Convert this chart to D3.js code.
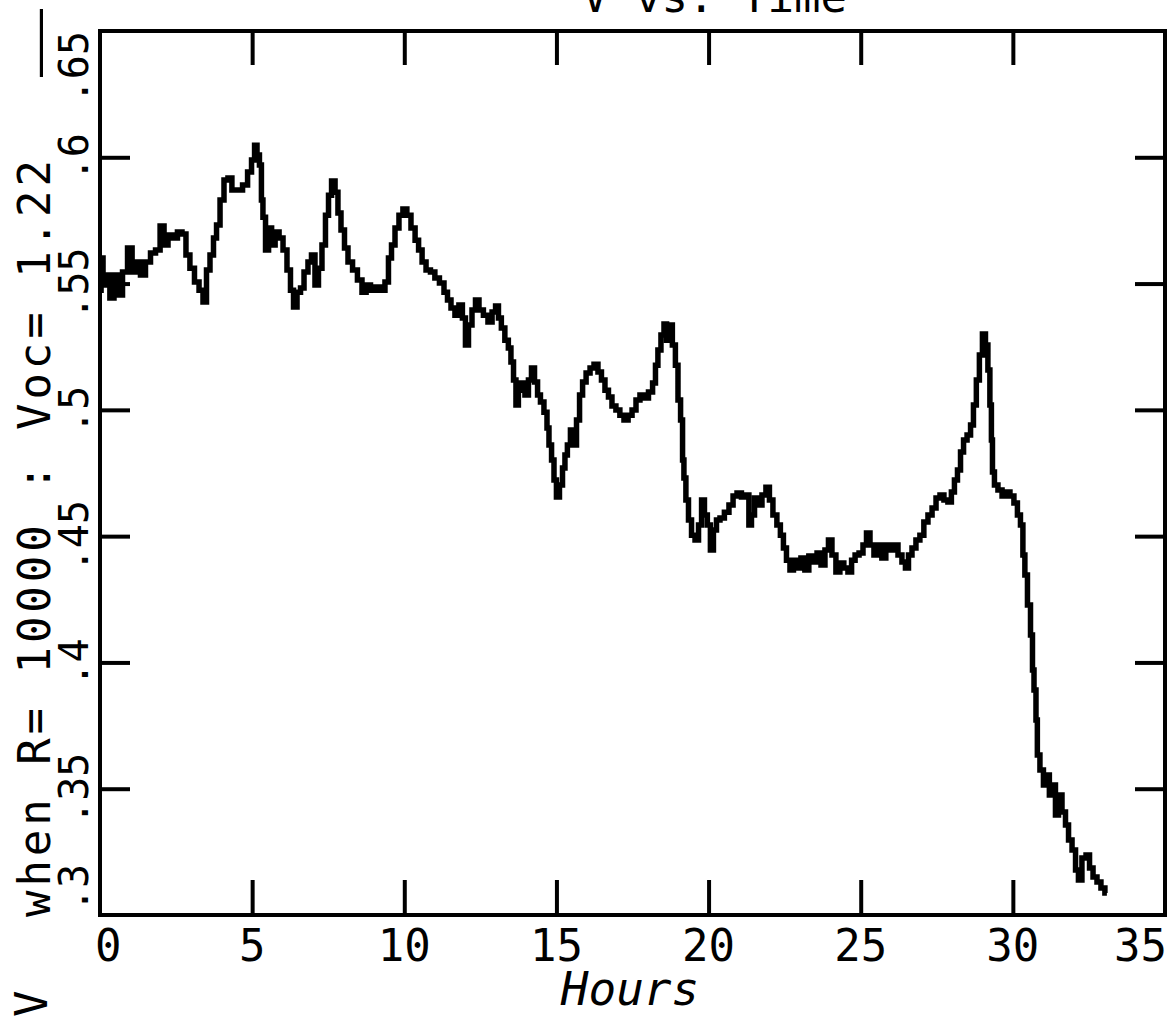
<!DOCTYPE html>
<html>
<head>
<meta charset="utf-8">
<script src="https://cdn.jsdelivr.net/npm/d3@7"></script>
<style>
  html, body { margin: 0; padding: 0; background: #ffffff; }
  svg { display: block; }
  text { font-family: "DejaVu Sans Mono", "Liberation Mono", monospace; fill: #000; }
</style>
</head>
<body>
<div id="chart"></div>
<script>
// ---- data ----
const titleText = "V vs. Time";
const xLabel = "Hours";
const yLabel = "when R= 10000 : Voc= 1.22";
const yUnit = "V";
const xTickValues = [0, 5, 10, 15, 20, 25, 30, 35];
const xTickLabels = ["0", "5", "10", "15", "20", "25", "30", "35"];
const yTickValues = [0.30, 0.35, 0.40, 0.45, 0.50, 0.55, 0.60, 0.65];
const yTickLabels = [".3", ".35", ".4", ".45", ".5", ".55", ".6", ".65"];

const hours = [
  0.00,0.07,0.13,0.26,0.39,0.53,0.66,0.82,0.99,1.12,1.25,1.41,1.58,1.74,1.91,2.04,2.17,2.30,2.46,2.63,
  2.76,2.89,3.02,3.19,3.32,3.45,3.55,3.68,3.78,3.88,4.01,4.14,4.27,4.40,4.60,4.77,4.93,5.03,5.13,5.19,
  5.29,5.32,5.39,5.49,5.59,5.69,5.82,5.95,6.08,6.21,6.31,6.41,6.54,6.64,6.77,6.90,7.00,7.13,7.23,7.36,
  7.46,7.56,7.66,7.79,7.85,7.99,8.08,8.22,8.38,8.54,8.68,8.81,8.97,9.14,9.30,9.43,9.53,9.63,9.76,9.89,
  10.02,10.15,10.29,10.42,10.52,10.65,10.78,10.94,11.07,11.24,11.37,11.47,11.60,11.73,11.86,11.96,12.06,12.16,12.29,12.39,
  12.52,12.68,12.82,12.95,13.05,13.14,13.24,13.37,13.47,13.54,13.64,13.70,13.80,13.90,14.03,14.13,14.23,14.33,14.43,14.52,
  14.66,14.72,14.79,14.89,14.95,15.05,15.15,15.25,15.31,15.41,15.51,15.61,15.71,15.81,15.91,16.04,16.17,16.30,16.43,16.53,
  16.66,16.76,16.89,17.02,17.15,17.29,17.42,17.55,17.68,17.81,17.94,18.11,18.21,18.30,18.37,18.50,18.57,18.67,18.76,18.86,
  18.96,19.03,19.13,19.16,19.22,19.29,19.39,19.49,19.62,19.72,19.82,19.91,20.01,20.11,20.21,20.31,20.44,20.60,20.74,20.87,
  21.00,21.16,21.29,21.36,21.46,21.56,21.69,21.82,21.95,22.05,22.18,22.31,22.41,22.51,22.61,22.74,22.84,22.97,23.10,23.23,
  23.36,23.50,23.63,23.76,23.89,23.99,24.12,24.25,24.38,24.51,24.65,24.75,24.88,25.01,25.14,25.24,25.37,25.50,25.63,25.76,
  25.89,26.03,26.16,26.29,26.42,26.52,26.62,26.75,26.88,27.01,27.14,27.28,27.41,27.54,27.67,27.80,27.93,28.03,28.13,28.23,
  28.33,28.43,28.56,28.66,28.75,28.85,28.95,29.05,29.15,29.21,29.28,29.31,29.35,29.44,29.58,29.71,29.84,29.97,30.10,30.20,
  30.30,30.36,30.43,30.53,30.63,30.66,30.73,30.79,30.82,30.96,31.05,31.15,31.25,31.35,31.45,31.55,31.68,31.78,31.88,32.01,
  32.11,32.20,32.34,32.47,32.57,32.70,32.83,32.96,33.09
];
const volts = [
  .5474,.5601,.5494,.5534,.5443,.5534,.5455,.5546,.5641,.5546,.5585,.5534,.5585,.5621,.5633,.5728,.5653,.5692,.5680,.5704,
  .5696,.5613,.5561,.5506,.5474,.5427,.5554,.5613,.5680,.5732,.5831,.5910,.5918,.5870,.5870,.5890,.5942,.5989,.6048,.6009,
  .5969,.5831,.5763,.5633,.5720,.5653,.5704,.5680,.5633,.5554,.5474,.5407,.5466,.5482,.5546,.5585,.5613,.5494,.5561,.5653,
  .5771,.5850,.5906,.5862,.5779,.5712,.5641,.5585,.5554,.5514,.5466,.5494,.5474,.5486,.5474,.5506,.5601,.5653,.5720,.5771,
  .5795,.5771,.5720,.5672,.5633,.5585,.5554,.5546,.5522,.5502,.5466,.5435,.5403,.5375,.5415,.5364,.5257,.5336,.5395,.5435,
  .5395,.5375,.5348,.5387,.5411,.5364,.5324,.5276,.5245,.5189,.5118,.5019,.5078,.5106,.5059,.5118,.5166,.5110,.5059,.5031,
  .4991,.4928,.4861,.4801,.4722,.4655,.4702,.4770,.4821,.4861,.4920,.4861,.4960,.5059,.5110,.5146,.5166,.5181,.5150,.5118,
  .5078,.5051,.5015,.4999,.4979,.4960,.4979,.4999,.5039,.5059,.5047,.5071,.5106,.5177,.5237,.5296,.5340,.5276,.5336,.5257,
  .5177,.5039,.4960,.4801,.4730,.4643,.4564,.4504,.4485,.4544,.4643,.4584,.4544,.4445,.4524,.4564,.4572,.4595,.4623,.4659,
  .4671,.4655,.4663,.4544,.4584,.4651,.4623,.4663,.4694,.4643,.4584,.4544,.4504,.4453,.4405,.4366,.4405,.4374,.4413,.4366,
  .4421,.4398,.4433,.4386,.4445,.4485,.4425,.4358,.4394,.4374,.4358,.4405,.4425,.4433,.4465,.4512,.4465,.4425,.4465,.4413,
  .4465,.4445,.4465,.4425,.4398,.4374,.4425,.4453,.4485,.4504,.4556,.4584,.4611,.4651,.4663,.4643,.4635,.4675,.4722,.4762,
  .4833,.4881,.4900,.4940,.5019,.5118,.5217,.5300,.5257,.5158,.5019,.4881,.4754,.4702,.4683,.4659,.4675,.4659,.4631,.4584,
  .4544,.4425,.4346,.4227,.4109,.3970,.3891,.3772,.3633,.3574,.3515,.3554,.3475,.3515,.3396,.3475,.3408,.3356,.3297,.3257,
  .3178,.3139,.3226,.3238,.3186,.3150,.3131,.3107,.3087
];

// ---- layout ----
const W = 1169, H = 1023;
const plot = { left: 100, right: 1165, top: 31, bottom: 915 };

const svg = d3.select("#chart").append("svg")
  .attr("width", W).attr("height", H)
  .attr("viewBox", `0 0 ${W} ${H}`);

const x = d3.scaleLinear().domain([0, 35]).range([plot.left, plot.right]);
const y = d3.scaleLinear().domain([0.30, 0.65]).range([plot.bottom, plot.top]);

const innerX = xTickValues.filter(v => v > 0 && v < 35);
const innerY = yTickValues.filter(v => v > 0.30 + 1e-9 && v < 0.65 - 1e-9);

// axes (ticks inward), drawn with d3 axis generators
function styleAxis(g) {
  g.select(".domain").remove();
  g.selectAll(".tick line").attr("stroke", "#000").attr("stroke-width", 4);
  g.selectAll(".tick text").remove();
}
svg.append("g").attr("transform", `translate(0,${plot.bottom})`)
  .call(d3.axisBottom(x).tickValues(innerX).tickSize(-35)).call(styleAxis);
svg.append("g").attr("transform", `translate(0,${plot.top})`)
  .call(d3.axisTop(x).tickValues(innerX).tickSize(-34)).call(styleAxis);
svg.append("g").attr("transform", `translate(${plot.left},0)`)
  .call(d3.axisLeft(y).tickValues(innerY).tickSize(-30)).call(styleAxis);
svg.append("g").attr("transform", `translate(${plot.right},0)`)
  .call(d3.axisRight(y).tickValues(innerY).tickSize(-30)).call(styleAxis);

// frame
svg.append("rect")
  .attr("x", plot.left).attr("y", plot.top)
  .attr("width", plot.right - plot.left).attr("height", plot.bottom - plot.top)
  .attr("fill", "none").attr("stroke", "#000").attr("stroke-width", 4);

// data trace
const pts = hours.map((h, i) => [h, volts[i]]);
const line = d3.line().x(d => x(d[0])).y(d => y(d[1])).curve(d3.curveStep);
svg.append("path").datum(pts)
  .attr("d", line)
  .attr("fill", "none").attr("stroke", "#000").attr("stroke-width", 5.5)
  .attr("stroke-linejoin", "miter");

// x tick labels
const nX = xTickValues.length;
svg.append("g").selectAll("text").data(xTickValues).join("text")
  .attr("x", (d, i) => i === 0 ? x(d) - 5 : (i === nX - 1 ? x(d) + 2 : x(d)))
  .attr("y", 961)
  .attr("text-anchor", (d, i) => i === 0 ? "start" : (i === nX - 1 ? "end" : "middle"))
  .attr("font-size", 44)
  .text((d, i) => xTickLabels[i]);

// x axis title
svg.append("text")
  .attr("x", 630).attr("y", 1005)
  .attr("text-anchor", "middle")
  .attr("font-size", 46)
  .attr("font-style", "italic")
  .text(xLabel);

// y tick labels (rotated)
svg.append("g").selectAll("text").data(yTickValues).join("text")
  .attr("transform", (d, i) => {
    let yy = y(d);
    if (i === 0) yy = y(d) - 3;
    return `translate(88,${yy}) rotate(-90)`;
  })
  .attr("text-anchor", (d, i) => i === 0 ? "start" : (i === yTickValues.length - 1 ? "end" : "middle"))
  .attr("font-size", 40)
  .text((d, i) => yTickLabels[i]);

// y axis title (rotated)
svg.append("text")
  .attr("transform", "translate(50,917) rotate(-90)")
  .attr("text-anchor", "start")
  .attr("font-size", 44)
  .attr("textLength", 757)
  .attr("lengthAdjust", "spacing")
  .text(yLabel);
svg.append("text")
  .attr("transform", "translate(47,1017) rotate(-90)")
  .attr("text-anchor", "start")
  .attr("font-size", 44)
  .text(yUnit);
svg.append("text")
  .attr("transform", "translate(54,77) rotate(-90)")
  .attr("text-anchor", "start")
  .attr("font-size", 46)
  .attr("textLength", 68)
  .attr("lengthAdjust", "spacingAndGlyphs")
  .text("\u2014\u2014");

// title (cut by the top edge, as in the scanned original)
svg.append("text")
  .attr("x", 847).attr("y", 12)
  .attr("text-anchor", "end")
  .attr("font-size", 44)
  .text(titleText);
</script>
</body>
</html>
